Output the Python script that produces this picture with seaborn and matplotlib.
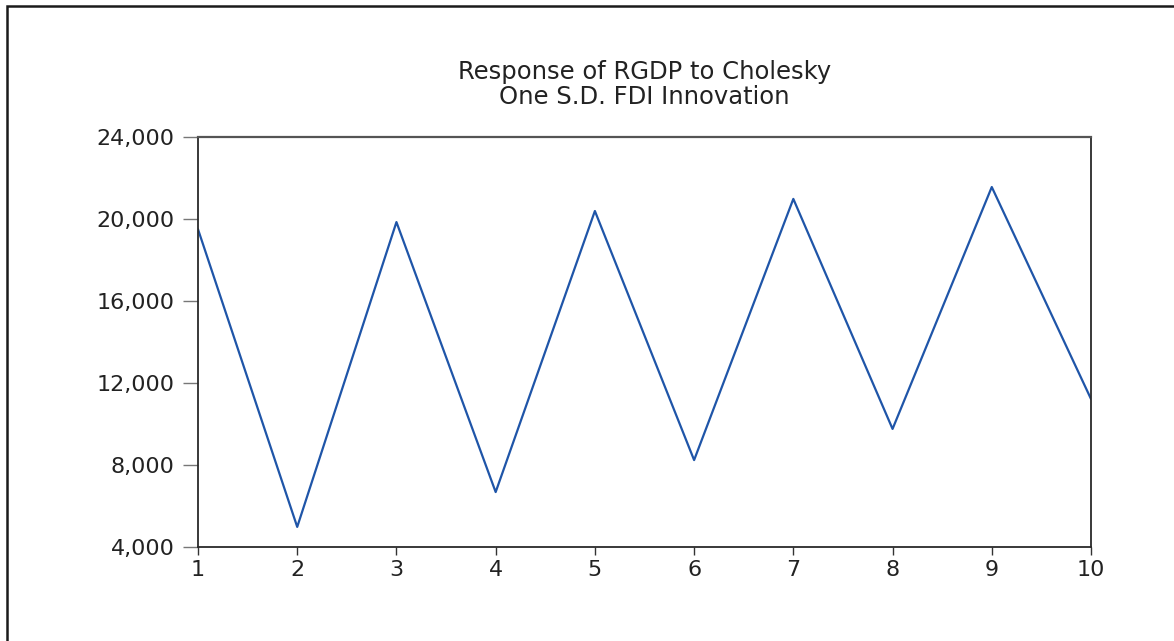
import matplotlib
matplotlib.use("Agg")
import matplotlib.pyplot as plt
import seaborn as sns
import pandas as pd
from matplotlib.patches import Rectangle
from matplotlib.ticker import FuncFormatter

periods = [1, 2, 3, 4, 5, 6, 7, 8, 9, 10]
response = [19500, 4980, 19850, 6680, 20390, 8240, 20980, 9760, 21560, 11220]
yticks = [4000, 8000, 12000, 16000, 20000, 24000]
title = "Response of RGDP to Cholesky\nOne S.D. FDI Innovation"

sns.set_theme(style="white")
plt.rcParams['font.family'] = ['DejaVu Sans']

fig = plt.figure(figsize=(11.74, 6.41), dpi=100)
fig.patch.set_facecolor("white")

# outer frame
fig.patches.append(Rectangle((7/1174, -0.05), 1.2, 1 - 6/641 + 0.05,
                             transform=fig.transFigure, fill=False,
                             edgecolor="#1a1a1a", linewidth=1.8))

ax = fig.add_axes([198/1174, 1 - 547/641, (1091 - 198)/1174, (547 - 137)/641])
df = pd.DataFrame({"period": periods, "response": response})
sns.lineplot(data=df, x="period", y="response", ax=ax, color="#1f55a8", linewidth=1.6)

ax.set_xlim(1, 10)
ax.set_ylim(4000, 24000)
ax.set_xticks(periods)
ax.set_yticks(yticks)
ax.yaxis.set_major_formatter(FuncFormatter(lambda v, p: f"{int(v):,}"))
ax.set_xlabel("")
ax.set_ylabel("")
ax.tick_params(axis="y", direction="out", length=11, width=1, color="#777777",
               labelsize=16, pad=6, labelcolor="#222222", left=True)
ax.tick_params(axis="x", direction="out", length=6, width=1, color="#333333",
               labelsize=16, pad=3, labelcolor="#222222", bottom=True)
for s in ["left", "bottom", "right"]:
    ax.spines[s].set_color("#2a2a2a")
    ax.spines[s].set_linewidth(1.3)
ax.spines["top"].set_color("#555555")
ax.spines["top"].set_linewidth(1.6)

ax.set_title(title, fontsize=17.5, color="#222222", pad=24, linespacing=1.05)

fig.savefig("out.png", dpi=100)
